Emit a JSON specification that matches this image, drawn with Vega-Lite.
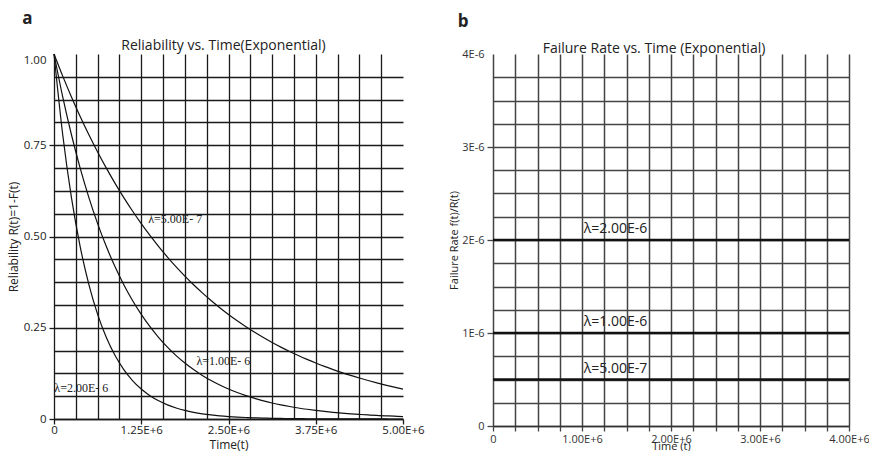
{
  "$schema": "https://vega.github.io/schema/vega-lite/v6.json",
  "padding": {"left": 7, "top": 9, "right": 2, "bottom": 0},
  "spacing": 23,
  "align": "none",
  "config": {
    "view": {"stroke": null},
    "font": "Open Sans",
    "title": {"font": "Open Sans", "color": "#222"},
    "concat": {"spacing": 0}
  },
  "hconcat": [
    {
      "title": {"text": "a", "anchor": "start", "frame": "bounds", "fontSize": 17, "fontWeight": "bold", "offset": 11, "dx": 15},
      "vconcat": [
        {
          "width": 349,
          "height": 365,
          "title": {"text": "Reliability vs. Time(Exponential)", "fontSize": 14, "fontWeight": "normal", "offset": -1, "dx": -5},
          "layer": [
            {
              "data": {"values": [
                {"t": 0, "a": 1, "b": 1, "c": 1},
                {"t": 125000, "a": 0.93941, "b": 0.88250, "c": 0.77880},
                {"t": 250000, "a": 0.88250, "b": 0.77880, "c": 0.60653},
                {"t": 375000, "a": 0.82903, "b": 0.68729, "c": 0.47237},
                {"t": 500000, "a": 0.77880, "b": 0.60653, "c": 0.36788},
                {"t": 625000, "a": 0.73162, "b": 0.53526, "c": 0.28650},
                {"t": 750000, "a": 0.68729, "b": 0.47237, "c": 0.22313},
                {"t": 875000, "a": 0.64565, "b": 0.41686, "c": 0.17377},
                {"t": 1000000, "a": 0.60653, "b": 0.36788, "c": 0.13534},
                {"t": 1125000, "a": 0.56978, "b": 0.32465, "c": 0.10540},
                {"t": 1250000, "a": 0.53526, "b": 0.28650, "c": 0.08208},
                {"t": 1375000, "a": 0.50283, "b": 0.25284, "c": 0.06393},
                {"t": 1500000, "a": 0.47237, "b": 0.22313, "c": 0.04979},
                {"t": 1625000, "a": 0.44375, "b": 0.19691, "c": 0.03877},
                {"t": 1750000, "a": 0.41686, "b": 0.17377, "c": 0.03020},
                {"t": 1875000, "a": 0.39161, "b": 0.15335, "c": 0.02352},
                {"t": 2000000, "a": 0.36788, "b": 0.13534, "c": 0.01832},
                {"t": 2125000, "a": 0.34559, "b": 0.11943, "c": 0.01426},
                {"t": 2250000, "a": 0.32465, "b": 0.10540, "c": 0.01111},
                {"t": 2375000, "a": 0.30498, "b": 0.09301, "c": 0.00865},
                {"t": 2500000, "a": 0.28650, "b": 0.08208, "c": 0.00674},
                {"t": 2625000, "a": 0.26915, "b": 0.07244, "c": 0.00525},
                {"t": 2750000, "a": 0.25284, "b": 0.06393, "c": 0.00409},
                {"t": 2875000, "a": 0.23752, "b": 0.05642, "c": 0.00318},
                {"t": 3000000, "a": 0.22313, "b": 0.04979, "c": 0.00248},
                {"t": 3125000, "a": 0.20961, "b": 0.04394, "c": 0.00193},
                {"t": 3250000, "a": 0.19691, "b": 0.03877, "c": 0.00150},
                {"t": 3375000, "a": 0.18498, "b": 0.03422, "c": 0.00117},
                {"t": 3500000, "a": 0.17377, "b": 0.03020, "c": 0.00091},
                {"t": 3625000, "a": 0.16325, "b": 0.02665, "c": 0.00071},
                {"t": 3750000, "a": 0.15335, "b": 0.02352, "c": 0.00055},
                {"t": 3875000, "a": 0.14406, "b": 0.02075, "c": 0.00043},
                {"t": 4000000, "a": 0.13534, "b": 0.01832, "c": 0.00034},
                {"t": 4125000, "a": 0.12714, "b": 0.01616, "c": 0.00026},
                {"t": 4250000, "a": 0.11943, "b": 0.01426, "c": 0.00020},
                {"t": 4375000, "a": 0.11220, "b": 0.01259, "c": 0.00016},
                {"t": 4500000, "a": 0.10540, "b": 0.01111, "c": 0.00012},
                {"t": 4625000, "a": 0.09901, "b": 0.00980, "c": 0.00010},
                {"t": 4750000, "a": 0.09301, "b": 0.00865, "c": 0.00007},
                {"t": 4875000, "a": 0.08738, "b": 0.00764, "c": 0.00006},
                {"t": 5000000, "a": 0.08208, "b": 0.00674, "c": 0.00005}
              ]},
              "transform": [{"fold": ["a", "b", "c"], "as": ["lam", "R"]}],
              "mark": {"type": "line", "color": "#111", "strokeWidth": 1.2, "interpolate": "monotone"},
              "encoding": {
                "x": {
                  "field": "t", "type": "quantitative",
                  "scale": {"domain": [0, 5000000], "nice": false, "zero": false},
                  "axis": {
                    "values": [0, 312500, 625000, 937500, 1250000, 1562500, 1875000, 2187500, 2500000, 2812500, 3125000, 3437500, 3750000, 4062500, 4375000, 4687500, 5000000],
                    "tickCount": 100,
                    "title": "Time(t)",
                    "labelExpr": "datum.value == 0 ? '0' : (abs(datum.value/1250000 - round(datum.value/1250000)) < 0.001 ? format(datum.value/1000000, '.2f') + 'E+6' : '')",
                    "grid": true,
                    "gridColor": "#1a1a1a",
                    "gridWidth": 1.3,
                    "gridOpacity": {"condition": {"test": "datum.value > 4900000", "value": 0}, "value": 1},
                    "ticks": true,
                    "tickColor": "#1a1a1a",
                    "tickWidth": 1.3,
                    "tickSize": 5,
                    "tickOpacity": {"condition": {"test": "abs(datum.value/1250000 - round(datum.value/1250000)) < 0.001", "value": 1}, "value": 0},
                    "domain": true,
                    "domainColor": "#1a1a1a",
                    "domainWidth": 1.6,
                    "labelFontSize": 11.5,
                    "labelColor": "#222",
                    "labelPadding": 0,
                    "labelFlush": false,
                    "labelOverlap": false,
                    "titleFontSize": 12,
                    "titleFontWeight": "normal",
                    "titleColor": "#222",
                    "titlePadding": 4
                  }
                },
                "y": {
                  "field": "R", "type": "quantitative",
                  "scale": {"domain": [0, 1], "nice": false},
                  "axis": {
                    "values": [0, 0.0625, 0.125, 0.1875, 0.25, 0.3125, 0.375, 0.4375, 0.5, 0.5625, 0.625, 0.6875, 0.75, 0.8125, 0.875, 0.9375, 1],
                    "tickCount": 100,
                    "title": "Reliability R(t)=1-F(t)",
                    "labelExpr": "datum.value == 0 ? '0' : (abs(datum.value*4 - round(datum.value*4)) < 0.001 ? format(datum.value, '.2f') : '')",
                    "labelBaseline": {"condition": {"test": "datum.value > 0.99", "value": "top"}, "value": "middle"},
                    "grid": true,
                    "gridColor": "#1a1a1a",
                    "gridWidth": 1.3,
                    "gridOpacity": {"condition": {"test": "datum.value > 0.99", "value": 0}, "value": 1},
                    "ticks": true,
                    "tickColor": "#1a1a1a",
                    "tickWidth": 1.3,
                    "tickSize": 5,
                    "tickOpacity": {"condition": {"test": "abs(datum.value*4 - round(datum.value*4)) < 0.001 && datum.value < 0.99", "value": 1}, "value": 0},
                    "domain": false,
                    "labelFontSize": 11.5,
                    "labelColor": "#222",
                    "labelPadding": 3,
                    "labelFlush": false,
                    "labelOverlap": false,
                    "titleFontSize": 12,
                    "titleFontWeight": "normal",
                    "titleColor": "#222",
                    "titlePadding": 3
                  }
                },
                "detail": {"field": "lam"}
              }
            },
            {
              "data": {"values": [
                {"t": 1350000, "R": 0.548, "label": "λ=5.00E- 7"},
                {"t": 2040000, "R": 0.159, "label": "λ=1.00E- 6"},
                {"t": 5000, "R": 0.085, "label": "λ=2.00E- 6"}
              ]},
              "mark": {"type": "text", "font": "Liberation Serif", "fontSize": 12, "align": "left", "baseline": "middle", "color": "#222"},
              "encoding": {
                "x": {"field": "t", "type": "quantitative"},
                "y": {"field": "R", "type": "quantitative"},
                "text": {"field": "label"}
              }
            }
          ]
        }
      ]
    },
    {
      "title": {"text": "b", "anchor": "start", "frame": "bounds", "fontSize": 17, "fontWeight": "bold", "offset": 11, "dx": 9},
      "vconcat": [
        {
          "width": 356,
          "height": 372,
          "title": {"text": "Failure Rate vs. Time (Exponential)", "fontSize": 14, "fontWeight": "normal", "offset": -8, "dx": -17},
          "layer": [
            {
              "data": {"values": [
                {"lambda": 0.000002},
                {"lambda": 0.000001},
                {"lambda": 0.0000005}
              ]},
              "mark": {"type": "rule", "color": "#111", "strokeWidth": 2.6},
              "encoding": {
                "y": {
                  "field": "lambda", "type": "quantitative",
                  "scale": {"domain": [0, 0.000004], "nice": false},
                  "axis": {
                    "values": [0, 0.00000025, 0.0000005, 0.00000075, 0.000001, 0.00000125, 0.0000015, 0.00000175, 0.000002, 0.00000225, 0.0000025, 0.00000275, 0.000003, 0.00000325, 0.0000035, 0.00000375, 0.000004],
                    "tickCount": 100,
                    "title": "Failure Rate f(t)/R(t)",
                    "labelExpr": "datum.value == 0 ? '0' : (abs(datum.value*1000000 - round(datum.value*1000000)) < 0.001 ? format(round(datum.value*1000000), 'd') + 'E-6' : '')",
                    "grid": true,
                    "gridColor": "#444",
                    "gridWidth": 1.5,
                    "gridOpacity": {"condition": {"test": "datum.value > 0.0000039", "value": 0}, "value": 1},
                    "ticks": true,
                    "tickColor": "#444",
                    "tickWidth": 1.3,
                    "tickSize": 6,
                    "tickOpacity": {"condition": {"test": "abs(datum.value*1000000 - round(datum.value*1000000)) < 0.001 && datum.value < 0.0000039", "value": 1}, "value": 0},
                    "domain": false,
                    "labelFontSize": 11,
                    "labelColor": "#333",
                    "labelPadding": 3,
                    "labelFlush": false,
                    "labelOverlap": false,
                    "titleFontSize": 11,
                    "titleFontWeight": "normal",
                    "titleColor": "#222",
                    "titlePadding": 2
                  }
                }
              }
            },
            {
              "data": {"values": [
                {"t": 1020000, "lambda": 0.000002, "label": "λ=2.00E-6"},
                {"t": 1020000, "lambda": 0.000001, "label": "λ=1.00E-6"},
                {"t": 1020000, "lambda": 0.0000005, "label": "λ=5.00E-7"}
              ]},
              "mark": {"type": "text", "font": "Open Sans", "fontSize": 14, "align": "left", "baseline": "alphabetic", "dy": -7, "color": "#222"},
              "encoding": {
                "x": {
                  "field": "t", "type": "quantitative",
                  "scale": {"domain": [0, 4000000], "nice": false, "zero": false},
                  "axis": {
                    "values": [0, 250000, 500000, 750000, 1000000, 1250000, 1500000, 1750000, 2000000, 2250000, 2500000, 2750000, 3000000, 3250000, 3500000, 3750000, 4000000],
                    "tickCount": 100,
                    "title": "Time (t)",
                    "labelExpr": "datum.value == 0 ? '0' : (abs(datum.value/1000000 - round(datum.value/1000000)) < 0.001 ? format(datum.value/1000000, '.2f') + 'E+6' : '')",
                    "grid": true,
                    "gridColor": "#444",
                    "gridWidth": 1.5,
                    "ticks": true,
                    "tickColor": "#444",
                    "tickWidth": 1.3,
                    "tickSize": 5,
                    "domain": true,
                    "domainColor": "#333",
                    "domainWidth": 1.5,
                    "labelFontSize": 11,
                    "labelColor": "#333",
                    "labelPadding": 2,
                    "labelFlush": false,
                    "labelOverlap": false,
                    "titleFontSize": 11,
                    "titleFontWeight": "normal",
                    "titleColor": "#222",
                    "titlePadding": -4
                  }
                },
                "y": {"field": "lambda", "type": "quantitative"},
                "text": {"field": "label"}
              }
            }
          ]
        }
      ]
    }
  ]
}
